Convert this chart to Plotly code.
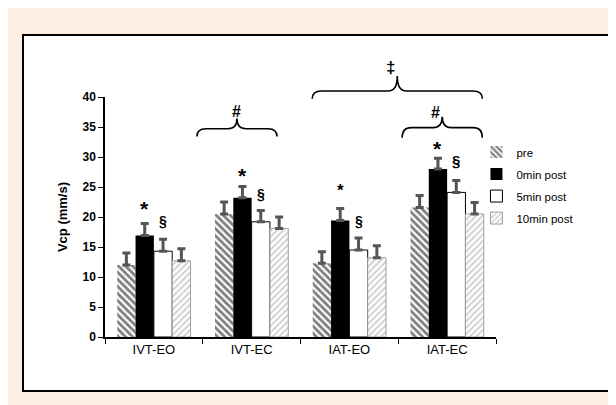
import plotly.graph_objects as go

categories = ["IVT-EO", "IVT-EC", "IAT-EO", "IAT-EC"]
series_names = ["pre", "0min post", "5min post", "10min post"]
pre = [12.0, 20.5, 12.3, 21.6]
post0 = [16.9, 23.2, 19.4, 28.0]
post5 = [14.3, 19.2, 14.5, 24.1]
post10 = [12.7, 18.1, 13.2, 20.5]
err_pre = [2.0, 2.0, 1.9, 2.0]
err_post0 = [2.0, 1.9, 2.0, 1.8]
err_post5 = [2.0, 1.9, 2.0, 2.0]
err_post10 = [2.0, 1.9, 2.0, 1.9]
y_ticks = [0, 5, 10, 15, 20, 25, 30, 35, 40]

# significance markers: (category index, series index, label, y value, size)
star_marks = [(0, 1, "*", 21.4, 21), (1, 1, "*", 27.0, 21), (2, 1, "*", 24.4, 17), (3, 1, "*", 31.5, 21)]
sect_marks = [(0, 2, "§", 19.4, 14), (1, 2, "§", 23.9, 14), (2, 2, "§", 19.4, 14), (3, 2, "§", 29.4, 15)]
# braces: (x start idx, x end idx, y end, y line, y peak, label, label y, label size)
braces = [
    (0.44, 1.26, 33.4, 34.7, 36.4, "#", 39.4, 16),
    (1.62, 3.36, 39.7, 41.0, 43.5, "‡", 46.8, 17),
    (2.54, 3.36, 33.2, 34.9, 36.7, "#", 39.2, 16),
]

FONT = "Liberation Sans, Arial, sans-serif"
values = [pre, post0, post5, post10]
errors = [err_pre, err_post0, err_post5, err_post10]
markers = [
    dict(color="white", pattern=dict(shape="\\", fgcolor="black", bgcolor="white", size=5, solidity=0.55),
         line=dict(width=0)),
    dict(color="black", line=dict(width=0)),
    dict(color="white", line=dict(color="black", width=1)),
    dict(color="white", pattern=dict(shape="/", fgcolor="#a0a0a0", bgcolor="white", size=4.5, solidity=0.4),
         line=dict(color="#a0a0a0", width=1)),
]

fig = go.Figure()
for i, name in enumerate(series_names):
    fig.add_trace(go.Bar(
        x=categories, y=values[i], name=name, marker=markers[i],
        legendgroup=name,
        error_y=dict(type="data", array=errors[i], arrayminus=[0] * len(categories),
                     symmetric=False, color="#555555", thickness=3, width=4),
    ))

# axis -> paper conversion (plot domain [0,1], x range [-0.5, 3.5], y range [0, 40])
NCAT = len(categories)
YMAX = 40.0
def px(idx):
    return (idx + 0.5) / NCAT
def py(v):
    return v / YMAX

BAR_W = 0.75 / 4
def bar_center(cat, k):
    return cat - 0.375 + BAR_W * (k + 0.5)

annotations = []
for cat, k, lab, yv, sz in star_marks + sect_marks:
    annotations.append(dict(x=bar_center(cat, k), y=yv, xref="x", yref="y", text=lab, showarrow=False,
                            font=dict(family=FONT, size=sz, color="black", weight="bold")))

shapes = []
M_L, M_R, M_T, M_B, W, H = 97, 128, 89, 76, 616, 405
PW, PH = W - M_L - M_R, H - M_T - M_B
def ppx(p):
    return (p - M_L) / PW
def ppy(p):
    return (H - M_B - p) / PH
# white bordered box on the peach page
shapes.append(dict(type="rect", xref="paper", yref="paper", x0=ppx(15), x1=ppx(601), y0=ppy(383), y1=ppy(27),
                   fillcolor="white", line=dict(color="black", width=2), layer="below"))

for x0i, x1i, ye, yl, yp, lab, ly, sz in braces:
    x0, x1 = px(x0i), px(x1i)
    xm = (x0 + x1) / 2
    r = 9 / PW
    ye_, yl_, yp_ = py(ye), py(yl), py(yp)
    path = (f"M {x0},{ye_} Q {x0},{yl_} {x0 + r},{yl_} L {xm - r},{yl_} "
            f"Q {xm},{yl_} {xm},{yp_} Q {xm},{yl_} {xm + r},{yl_} L {x1 - r},{yl_} "
            f"Q {x1},{yl_} {x1},{ye_}")
    shapes.append(dict(type="path", xref="paper", yref="paper", path=path,
                       line=dict(color="black", width=1.6)))
    annotations.append(dict(x=xm, y=py(ly), xref="paper", yref="paper", text=lab, showarrow=False,
                            font=dict(family=FONT, size=sz, color="black", weight="bold")))

fig.update_layout(
    width=W, height=H,
    margin=dict(l=M_L, r=M_R, t=M_T, b=M_B, autoexpand=False),
    paper_bgcolor="#FDEEE4", plot_bgcolor="rgba(0,0,0,0)",
    barmode="group", bargap=0.25, bargroupgap=0,
    font=dict(family=FONT, color="black"),
    showlegend=True,
    legend=dict(x=0.95, xanchor="left", y=0.831, yanchor="top", traceorder="grouped",
                tracegroupgap=3, bgcolor="rgba(0,0,0,0)", font=dict(family=FONT, size=11.5, color="black"),
                itemwidth=30),
    xaxis=dict(type="category", range=[-0.5, 3.5], tickson="boundaries", ticks="outside", ticklen=5,
               tickcolor="black", showline=True, linecolor="black", linewidth=1.5, showgrid=False,
               tickfont=dict(family=FONT, size=13, color="black")),
    yaxis=dict(range=[0, YMAX], tickvals=y_ticks, ticks="outside", ticklen=5, tickcolor="black",
               showline=True, linecolor="black", linewidth=1.5, showgrid=False, zeroline=False,
               tickfont=dict(family=FONT, size=12, color="black", weight="bold"),
               title=dict(text="Vcp (mm/s)", standoff=12,
                          font=dict(family=FONT, size=13, color="black", weight="bold"))),
    shapes=shapes, annotations=annotations,
)

fig.write_html("out.html")
